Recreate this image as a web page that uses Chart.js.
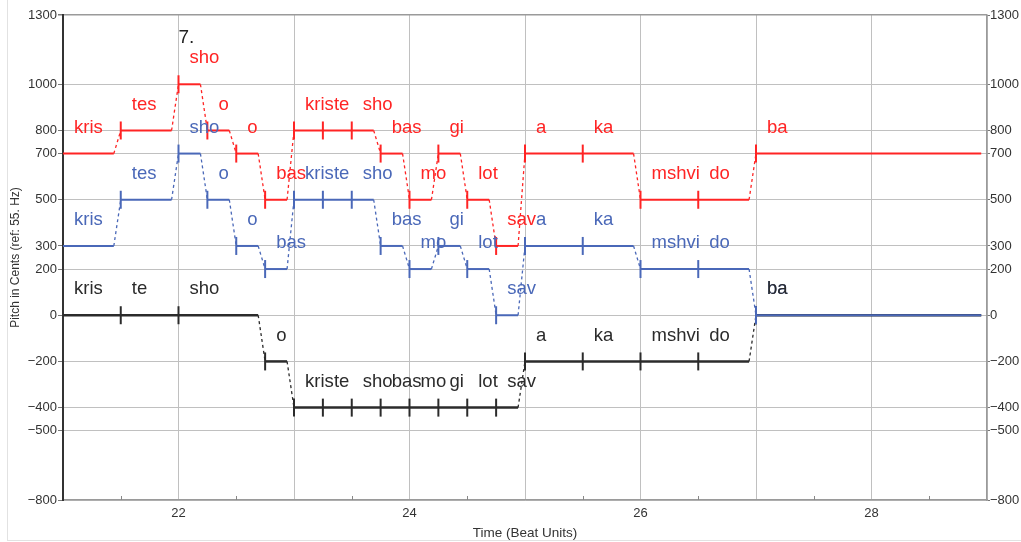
<!DOCTYPE html>
<html>
<head>
<meta charset="utf-8">
<script src="https://cdn.jsdelivr.net/npm/chart.js@4.4.1/dist/chart.umd.min.js"></script>
<style>
  html, body { margin: 0; padding: 0; background: #fff; }
  #wrap { width: 1021px; height: 542px; position: relative; }
  #frame { position: absolute; left: 7px; top: 0; width: 1014px; height: 540px;
           border-left: 1px solid #e2e2e2; border-bottom: 1px solid #e2e2e2; pointer-events: none; }
</style>
</head>
<body>
<div id="wrap">
  <canvas id="pitch"></canvas>
  <div id="frame"></div>
</div>
<script>
// onsets (beats) for the two upper voices
const onsets = [21, 21.5, 22, 22.25, 22.5, 22.75, 23, 23.25, 23.5, 23.75, 24, 24.25, 24.5, 24.75, 25, 25.5, 26, 26.5, 27];
const upperSyllables = ['kris', 'tes', 'sho', 'o', 'o', 'bas', 'kris', 'te', 'sho', 'bas', 'mo', 'gi', 'lot', 'sav', 'a', 'ka', 'mshvi', 'do', 'ba'];
const redPitch = [700, 800, 1000, 800, 700, 500, 800, 800, 800, 700, 500, 700, 500, 300, 700, 700, 500, 500, 700];
const bluePitch = [300, 500, 700, 500, 300, 200, 500, 500, 500, 300, 200, 300, 200, 0, 300, 300, 200, 200, 0];

// bass voice
const lowOnsets = [21, 21.5, 22, 22.75, 23, 23.25, 23.5, 23.75, 24, 24.25, 24.5, 24.75, 25, 25.5, 26, 26.5, 27];
const lowSyllables = ['kris', 'te', 'sho', 'o', 'kris', 'te', 'sho', 'bas', 'mo', 'gi', 'lot', 'sav', 'a', 'ka', 'mshvi', 'do', 'ba'];
const blackPitch = [0, 0, 0, -200, -400, -400, -400, -400, -400, -400, -400, -400, -200, -200, -200, -200, 0];

const glide = 0.06;     // time spent sliding into the next pitch
const lastEnd = 28.95;
const yTicks = [-800, -500, -400, -200, 0, 200, 300, 500, 700, 800, 1000, 1300];
const xLabels = [22, 24, 26, 28];
const phraseMark = { text: '7.', x: 22, y: 1200 };

const RED = '#ff2424';
const BLUE = '#4a68b8';
const BLACK = '#2b2b2b';
const FONT = "'Liberation Sans', Arial, Helvetica, sans-serif";

// step line: hold the pitch, then a short dashed glide to the next onset
function buildLine(times, pitches) {
  const pts = [];
  times.forEach((t, i) => {
    pts.push({ x: t, y: pitches[i], onset: true });
    const next = times[i + 1];
    if (next === undefined) {
      pts.push({ x: lastEnd, y: pitches[i], onset: false });
    } else if (pitches[i + 1] !== pitches[i]) {
      pts.push({ x: next - glide, y: pitches[i], onset: false });
    }
  });
  return pts;
}

function voice(label, times, pitches, syllables, color, width, order) {
  return {
    label: label,
    data: buildLine(times, pitches),
    syllables: syllables,
    borderColor: color,
    borderWidth: width,
    order: order,
    pointStyle: 'line',
    rotation: 90,
    pointRadius: ctx => (ctx.raw && ctx.raw.onset && ctx.raw.x > 21) ? 9 : 0,
    pointHoverRadius: ctx => (ctx.raw && ctx.raw.onset && ctx.raw.x > 21) ? 9 : 0,
    pointBorderColor: color,
    pointBorderWidth: 2,
    tension: 0,
    segment: {
      borderDash: ctx => ctx.p0.parsed.y !== ctx.p1.parsed.y ? [3, 3] : undefined,
      borderWidth: ctx => ctx.p0.parsed.y !== ctx.p1.parsed.y ? 1.3 : undefined
    }
  };
}

const fmt = v => v < 0 ? '\u2212' + Math.abs(v) : String(v);

const syllablePlugin = {
  id: 'syllables',
  afterDatasetsDraw(chart) {
    const ctx = chart.ctx;
    const xs = chart.scales.x;
    const ys = chart.scales.y;
    const area = chart.chartArea;
    ctx.save();

    // minor ticks at half beats along the bottom axis
    ctx.strokeStyle = '#888';
    ctx.lineWidth = 1;
    for (let t = 21.5; t < 29; t += 1) {
      const px = Math.round(xs.getPixelForValue(t)) + 0.5;
      ctx.beginPath();
      ctx.moveTo(px, area.bottom);
      ctx.lineTo(px, area.bottom - 4);
      ctx.stroke();
    }

    ctx.font = '18.5px ' + FONT;
    ctx.textAlign = 'left';
    ctx.textBaseline = 'middle';
    chart.data.datasets.forEach((ds, di) => {
      const meta = chart.getDatasetMeta(di);
      ctx.fillStyle = ds.borderColor;
      let k = 0;
      ds.data.forEach((p, i) => {
        if (!p.onset) return;
        const el = meta.data[i];
        ctx.fillText(ds.syllables[k], el.x + 11, el.y - 26);
        k++;
      });
    });

    ctx.fillStyle = '#222';
    ctx.font = '19px ' + FONT;
    ctx.fillText(phraseMark.text, xs.getPixelForValue(phraseMark.x), ys.getPixelForValue(phraseMark.y));
    ctx.restore();
  }
};

new Chart(document.getElementById('pitch'), {
  type: 'line',
  data: {
    datasets: [
      voice('top', onsets, redPitch, upperSyllables, RED, 2, 0),
      voice('middle', onsets, bluePitch, upperSyllables, BLUE, 2, 1),
      voice('bass', lowOnsets, blackPitch, lowSyllables, BLACK, 2.5, 2)
    ]
  },
  options: {
    responsive: true,
    maintainAspectRatio: false,
    animation: false,
    layout: { padding: { top: 15, left: 0, right: 0, bottom: 0 } },
    plugins: {
      legend: { display: false },
      tooltip: { enabled: false }
    },
    scales: {
      x: {
        type: 'linear',
        min: 21,
        max: 29,
        afterFit: s => { s.height = 42; },
        grid: { color: '#c0c0c0', lineWidth: 1, drawTicks: false },
        border: { color: '#9a9a9a', width: 1.5 },
        ticks: {
          stepSize: 1,
          autoSkip: false,
          maxRotation: 0,
          padding: 6,
          color: '#333',
          font: { size: 13, family: FONT },
          callback: v => xLabels.includes(v) ? String(v) : ''
        },
        title: {
          display: true,
          text: 'Time (Beat Units)',
          color: '#333',
          font: { size: 13.5, family: FONT },
          padding: { top: 0, bottom: 1 }
        }
      },
      y: {
        position: 'left',
        min: -800,
        max: 1300,
        afterBuildTicks: s => { s.ticks = yTicks.map(v => ({ value: v })); },
        afterFit: s => { s.width = 63; },
        grid: {
          color: c => c.tick && c.tick.value === 1300 ? '#9a9a9a' : '#c0c0c0',
          lineWidth: c => c.tick && c.tick.value === 1300 ? 1.5 : 1,
          tickLength: 5,
          tickColor: '#777'
        },
        border: { color: '#333', width: 2 },
        ticks: {
          padding: 1,
          color: '#333',
          font: { size: 13, family: FONT },
          callback: fmt
        },
        title: {
          display: true,
          text: 'Pitch in Cents (ref: 55. Hz)',
          color: '#333',
          font: { size: 12, family: FONT },
          padding: { top: 8, bottom: 0 }
        }
      },
      y2: {
        position: 'right',
        min: -800,
        max: 1300,
        afterBuildTicks: s => { s.ticks = yTicks.map(v => ({ value: v })); },
        afterFit: s => { s.width = 34; },
        grid: { drawOnChartArea: false, tickLength: 3, tickColor: '#777' },
        border: { color: '#9a9a9a', width: 1.5 },
        ticks: {
          padding: 0,
          color: '#333',
          font: { size: 13, family: FONT },
          callback: fmt
        }
      }
    }
  },
  plugins: [syllablePlugin]
});
</script>
</body>
</html>
